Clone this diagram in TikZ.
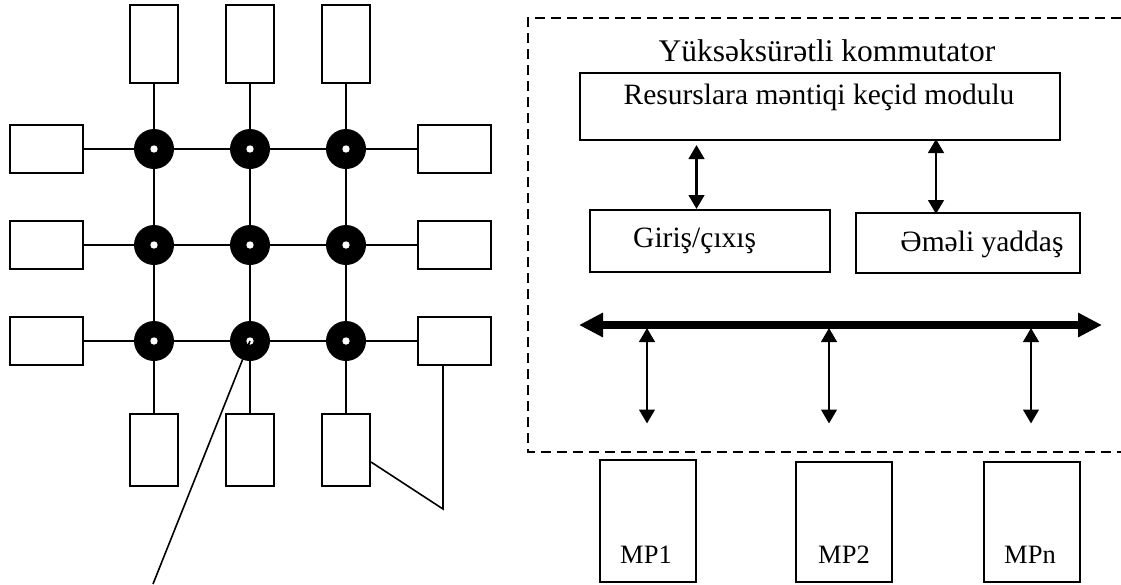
\documentclass[tikz,border=0pt]{standalone}
\usepackage{fontspec}
\setmainfont{Liberation Serif}
\usetikzlibrary{arrows.meta,calc}
\begin{document}
\begin{tikzpicture}[x=1pt,y=-1pt,
  bx/.style={draw,line width=2pt,inner sep=0pt},
  hbox/.style={bx,minimum width=73pt,minimum height=48pt},
  tbox/.style={bx,minimum width=48pt,minimum height=78pt},
  bbox/.style={bx,minimum width=48pt,minimum height=72pt},
  sw/.style={circle,fill=black,minimum size=40pt,inner sep=0pt},
  wire/.style={line width=2pt},
  txt/.style={inner sep=0pt,anchor=base,font=\fontsize{29.5}{34}\selectfont},
  dbl/.style={line width=2.8pt,{Triangle[length=14pt,width=15.5pt]}-{Triangle[length=14pt,width=15.5pt]}},
  busar/.style={line width=7.5pt,{Triangle[length=24pt,width=23pt]}-{Triangle[length=24pt,width=23pt]}},
  dashline/.style={line width=1.5pt,dash pattern=on 10pt off 6pt}
]
\useasboundingbox (0,0) rectangle (1121,584);
% ---------------- left: mesh ----------------
\foreach \j/\x in {1/154,2/250,3/346}{
  \foreach \i/\y in {1/149,2/245,3/341}{
    \node[sw] (c-\i-\j) at (\x,\y) {};
  }
}
\node[tbox] (T-1) at (154,44) {};
\node[tbox] (T-2) at (250,44) {};
\node[tbox] (T-3) at (346,44) {};
\node[bbox] (B-1) at (154,450) {};
\node[bbox] (B-2) at (250,450) {};
\node[bbox] (B-3) at (346,450) {};
\node[hbox] (L-1) at (46.5,149) {};
\node[hbox] (L-2) at (46.5,245) {};
\node[hbox] (L-3) at (46.5,341) {};
\node[hbox] (R-1) at (454.5,149) {};
\node[hbox] (R-2) at (454.5,245) {};
\node[hbox] (R-3) at (454.5,341) {};
\foreach \i in {1,2,3}{
  \draw[wire] (L-\i) -- (c-\i-1) -- (c-\i-2) -- (c-\i-3) -- (R-\i);
  \draw[wire] (T-\i) -- (c-1-\i) -- (c-2-\i) -- (c-3-\i) -- (B-\i);
}
\foreach \i in {1,2,3}{\foreach \j in {1,2,3}{
  \fill[white] (c-\i-\j.center) circle (3.7pt);
}}
\coordinate (ptr) at (153,584);
\draw[line width=1.6pt] (c-3-2.center) -- (ptr);
\coordinate (k) at (443,509);
\draw[line width=1.6pt] ([xshift=-11.5pt]R-3.south) -- (k) -- ([yshift=-12pt]B-3.east);
% ---------------- right: switch ----------------
\draw[dashline] (1121,18) -- (528,18) -- (528,452) -- (1121,452);
\node[txt,font=\fontsize{31.5}{36}\selectfont] (title) at (827,61) {Yüksəksürətli kommutator};
\node[bx,minimum width=480pt,minimum height=67pt] (mod) at (820,106.5) {};
\node[txt] (modt) at (819,104) {Resurslara məntiqi keçid modulu};
\node[bx,minimum width=240pt,minimum height=62pt] (io) at (710,241) {};
\node[txt,anchor=base west] (iot) at (633,247) {Giriş/çıxış};
\node[bx,minimum width=224pt,minimum height=60pt] (mem) at (968,243) {};
\node[txt] (memt) at (982,251) {Əməli yaddaş};
\coordinate (x1) at (696.5,0);
\coordinate (x2) at (936,0);
\draw[dbl] ([yshift=-4pt]mod.south -| x1) -- (io.north -| x1);
\draw[dbl] ([yshift=2pt]mod.south -| x2) -- ([yshift=-2pt]mem.north -| x2);
\coordinate (busL) at (579,325);
\coordinate (busR) at (1102,325);
\draw[busar] (busL) -- (busR);
\foreach \n/\x in {1/647,2/829,3/1031}{
  \coordinate (a\n) at (\x,328);
  \coordinate (e\n) at (\x,423.5);
  \draw[dbl] (a\n) -- (e\n);
}
\node[bx,minimum width=96pt,minimum height=122pt] (mp1) at (648,521) {};
\node[bx,minimum width=96pt,minimum height=120pt] (mp2) at (844,522) {};
\node[bx,minimum width=96pt,minimum height=120pt] (mpn) at (1032,522) {};
\node[txt,font=\fontsize{26.5}{30}\selectfont] (mp1t) at (646,563) {MP1};
\node[txt,font=\fontsize{26.5}{30}\selectfont] (mp2t) at (844,563) {MP2};
\node[txt,font=\fontsize{26.5}{30}\selectfont] (mpnt) at (1030,563) {MPn};
\end{tikzpicture}
\end{document}
